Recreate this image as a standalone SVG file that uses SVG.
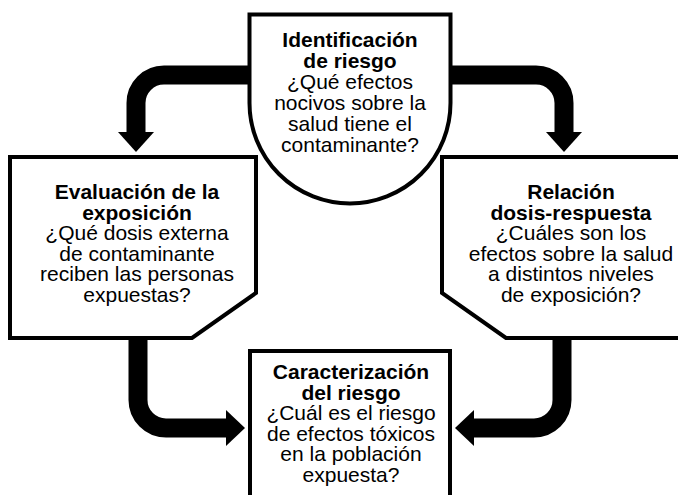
<svg xmlns="http://www.w3.org/2000/svg" width="678" height="495" viewBox="0 0 678 495">
<style>
.node{fill:#fff;stroke:#000;stroke-width:4;stroke-linejoin:miter}
.bar{fill:none;stroke:#000;stroke-width:19;stroke-linecap:butt}
.head{fill:#000}
text{font-family:"Liberation Sans",Arial,Helvetica,sans-serif;font-size:21px;fill:#000;text-anchor:middle}
.b{font-weight:bold}
</style>
<rect width="678" height="495" fill="#fff"/>
<g id="connectors">
<path class="bar" d="M251,75 H164 A28,28 0 0 0 136,103 V134"/>
<polygon class="head" points="118,132 154,132 136,152"/>
<path class="bar" d="M449,75 H536 A28,28 0 0 1 564,103 V134"/>
<polygon class="head" points="546,132 582,132 564,152"/>
<path class="bar" d="M138,336 V400 A28,28 0 0 0 166,428 H228"/>
<polygon class="head" points="226,410 245,428 226,446"/>
<path class="bar" d="M562,336 V400 A28,28 0 0 1 534,428 H472"/>
<polygon class="head" points="474,410 455,428 474,446"/>
</g>
<g id="identificacion">
<path class="node" d="M249.5,14.5 H450.5 V103 A100.5,100.5 0 0 1 249.5,103 Z"/>
<text x="350" y="46.5" class="b">Identificación</text>
<text x="350" y="67.5" class="b">de riesgo</text>
<text x="350" y="89">¿Qué efectos</text>
<text x="350" y="110">nocivos sobre la</text>
<text x="350" y="131">salud tiene el</text>
<text x="350" y="152">contaminante?</text>
</g>
<g id="evaluacion">
<path class="node" d="M10,157 H256 V293 L192,338 H10 Z"/>
<text x="137" y="199" class="b">Evaluación de la</text>
<text x="137" y="219.5" class="b">exposición</text>
<text x="137" y="240">¿Qué dosis externa</text>
<text x="137" y="260.5">de contaminante</text>
<text x="137" y="281">reciben las personas</text>
<text x="137" y="301.5">expuestas?</text>
</g>
<g id="relacion">
<path class="node" d="M442,157 H692 V338 H506 L442,293 Z"/>
<text x="571" y="199" class="b">Relación</text>
<text x="571" y="219.5" class="b">dosis-respuesta</text>
<text x="571" y="240">¿Cuáles son los</text>
<text x="571" y="260.5">efectos sobre la salud</text>
<text x="571" y="281">a distintos niveles</text>
<text x="571" y="301.5">de exposición?</text>
</g>
<g id="caracterizacion">
<path class="node" d="M250,351 H450 V510 H250 Z"/>
<text x="351" y="379" class="b">Caracterización</text>
<text x="351" y="399.5" class="b">del riesgo</text>
<text x="351" y="420">¿Cuál es el riesgo</text>
<text x="351" y="440.5">de efectos tóxicos</text>
<text x="351" y="461">en la población</text>
<text x="351" y="481.5">expuesta?</text>
</g>
</svg>
